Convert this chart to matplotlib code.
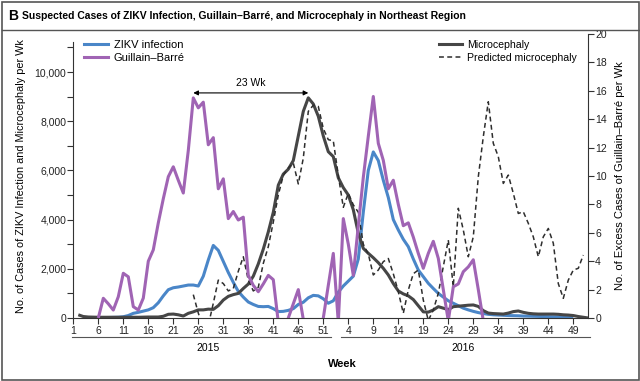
# zika_northeast.py
# Suspected ZIKV / Guillain-Barré / microcephaly cases, Northeast region (2015-2016)
import matplotlib
matplotlib.use("Agg")
import matplotlib.pyplot as plt
import matplotlib.transforms as mtransforms
from matplotlib.lines import Line2D
from matplotlib.patches import Rectangle

plt.rcParams["font.family"] = ["Liberation Sans", "DejaVu Sans"]

# week index: 2015 weeks 1..52 -> 1..52, 2016 weeks 1..52 -> 53..104
zikv_start = 3
zikv = [20, 15, 15, 15, 15, 20, 25, 30, 50, 100,
        190, 230, 280, 330, 420, 620, 900, 1150,
        1230, 1260, 1300, 1340, 1340, 1300, 1700, 2360, 2950, 2750,
        2300, 1850, 1450, 1080, 850, 650, 550, 470, 460, 470,
        380, 260, 270, 310, 380, 550, 640, 820, 920, 900,
        780, 600, 700, 1050, 1300, 1500, 1700, 2400, 4300, 6000,
        6750, 6400, 5600, 4900, 4000, 3580, 3200, 2900, 2400, 1950,
        1680, 1410, 1200, 1000, 850, 700, 600, 500, 400, 330,
        270, 220, 180, 150, 130, 120, 110, 100, 95, 90,
        80, 75, 70, 65, 60, 55, 50, 45, 40, 35, 30]

micro_start = 2
micro = [130, 60, 40, 35, 30, 30, 30, 30, 30, 30, 30, 30, 30, 35, 40, 40,
         40, 70, 150, 160, 130, 80, 190, 250, 330, 330, 360, 350, 500,
         730, 880, 950, 1000, 1200, 1380, 1700, 2200, 2800, 3500,
         4300, 5400, 5850, 6050, 6400, 7400, 8400, 8950, 8700, 8200,
         7400, 6760, 6560, 5700, 5300, 5000, 4400, 3450, 2830, 2630,
         2450, 2250, 2020, 1750, 1400, 1100, 980, 900, 750, 500,
         250, 240, 325, 460, 400, 340, 460, 480, 500, 520,
         530, 470, 300, 200, 180, 170, 160, 200, 260, 285,
         230, 190, 170, 160, 160, 160, 160, 150, 130, 120,
         100, 60, 30, 0]

pred_start = 25
pred = [950, 200, -400, -300, 600, 1540,
        1400, 1100, 1200, 1900, 2490, 1540, 1100, 1250, 2220, 2900,
        3900, 5000, 5800, 6100, 6300, 5450, 6500, 8400, 8650, 8600,
        7700, 7250, 7200, 5800, 4500, 5070, 4600, 4300, 3000, 2600,
        1750, 1950, 2290, 2420, 1800, 1070, 190, 1140, 1800, 1950,
        730, -100, 325, 1000, 2090, 3170, 1270, 4460, 3580, 2490,
        3300, 5740, 7370, 8790, 7100, 6560, 5470, 5810, 5070, 4250,
        4320, 3850, 3300, 2490, 3300, 3640, 3040, 1400, 800, 1540,
        1950, 2020, 2560]

gbs_start = 6
gbs = [0, 1.39, 1.0, 0.56, 1.5, 3.15, 2.9, 0.8, 0.56, 1.4,
       4.0, 4.8, 6.7, 8.4, 9.95, 10.65, 9.7, 8.8, 11.8, 15.5,
       14.8, 15.2, 12.2, 12.7, 9.1, 9.8, 7.0, 7.5, 6.9, 7.1,
       3.0, 2.3, 1.85, 2.4, 3.0, 2.7, -0.3, -2.0, 0.0, 1.0,
       2.0, -0.1, -2.0, -2.0, -1.0, 0.0, 2.3, 4.55, -0.3, 7.0,
       5.2, 3.0, 6.5, 9.9, 12.8, 15.6, 12.3, 11.1, 9.1, 9.7,
       8.0, 6.5, 6.7, 5.7, 4.55, 3.5, 4.55, 5.4, 4.2, 2.0,
       -0.2, 2.2, 2.4, 3.26, 3.6, 4.1, 2.0, -0.2]

tick_weeks_2015 = list(range(1, 52, 5))
tick_weeks_2016 = list(range(4, 50, 5))

BLUE = "#4a86c8"
PURPLE = "#a064b4"
GRAY = "#464646"
DASH = "#2e2e2e"
DASHES = (0, (3.2, 2.2))
W, H = 640, 381


def weeks(start, values):
    return list(range(start, start + len(values)))


def main():
    fig = plt.figure(figsize=(W / 100, H / 100), dpi=100)
    ax = fig.add_axes([73.3 / W, 1 - 318 / H, 515 / W, 284 / H])
    ax2 = ax.twinx()

    ax.plot(weeks(zikv_start, zikv), zikv, color=BLUE, lw=2.2, solid_capstyle="butt")
    ax.plot(weeks(micro_start, micro), micro, color=GRAY, lw=2.2, solid_capstyle="butt")
    ax.plot(weeks(pred_start, pred), pred, color=DASH, lw=1.1, ls=DASHES)
    ax2.plot(weeks(gbs_start, gbs), gbs, color=PURPLE, lw=2.2, solid_capstyle="butt")

    ax.set_xlim(1, 104)
    ax.set_ylim(0, 11545)
    ax2.set_ylim(0, 20)

    # spines
    for a in (ax, ax2):
        a.spines["top"].set_visible(False)
        for s in a.spines.values():
            s.set_linewidth(0.8)
            s.set_color("#333333")
    ax.spines["right"].set_visible(False)
    ax2.spines["left"].set_visible(False)
    ax2.spines["bottom"].set_visible(False)
    ax.spines["left"].set_bounds(0, 11200)

    # left axis ticks
    ax.set_yticks(range(0, 10001, 2000))
    ax.set_yticklabels([f"{v:,}" for v in range(0, 10001, 2000)])
    ax.set_yticks(range(1000, 11001, 2000), minor=True)
    ax.tick_params(axis="y", which="both", length=4, width=0.8, pad=1,
                   labelsize=7.5, colors="#333333", labelcolor="#222222")
    # right axis ticks
    ax2.set_yticks(range(0, 21, 2))
    ax2.tick_params(axis="y", length=4, width=0.8, pad=1, labelsize=7.5,
                    colors="#333333", labelcolor="#222222")
    # x ticks
    xt = tick_weeks_2015 + [52 + w for w in tick_weeks_2016]
    ax.set_xticks(xt)
    ax.set_xticklabels([str(w) for w in tick_weeks_2015] + [str(w) for w in tick_weeks_2016])
    ax.tick_params(axis="x", length=4, width=0.8, pad=2, labelsize=7.5,
                   colors="#333333", labelcolor="#222222")

    ax.set_ylabel("No. of Cases of ZIKV Infection and Microcephaly per Wk",
                  fontsize=7.8, labelpad=6)
    ax2.set_ylabel("No. of Excess Cases of Guillain\u2013Barr\u00e9 per Wk",
                   fontsize=8, labelpad=6)

    # year brackets below the x axis
    trans = mtransforms.blended_transform_factory(ax.transData, ax.transAxes)
    ax.plot([0.7, 52.5], [-0.067, -0.067], color="#555555", lw=0.8,
            transform=trans, clip_on=False)
    ax.plot([54.5, 104.3], [-0.067, -0.067], color="#555555", lw=0.8,
            transform=trans, clip_on=False)
    ax.text(27.9, -0.088, "2015", transform=trans, ha="center", va="top", fontsize=7.5)
    ax.text(79, -0.088, "2016", transform=trans, ha="center", va="top", fontsize=7.5)
    ax.text(54.8, -0.145, "Week", transform=trans, ha="center", va="top",
            fontsize=8, fontweight="bold")

    # 23-week lag arrow
    ax.annotate("", xy=(25, 9150), xytext=(48, 9150),
                arrowprops=dict(arrowstyle="<|-|>", color="black", lw=0.8,
                                mutation_scale=7, shrinkA=0, shrinkB=0))
    ax.text(36.5, 9350, "23 Wk", ha="center", va="bottom", fontsize=7.5)

    # legends
    h1 = [Line2D([], [], color=BLUE, lw=2.2), Line2D([], [], color=PURPLE, lw=2.2)]
    fig.legend(h1, ["ZIKV infection", "Guillain\u2013Barr\u00e9"],
               loc="upper left", bbox_to_anchor=(84 / W, 1 - 40 / H),
               frameon=False, fontsize=8, handlelength=2.2,
               handletextpad=0.5, labelspacing=0.25, borderpad=0,
               borderaxespad=0)
    h2 = [Line2D([], [], color=GRAY, lw=2.2),
          Line2D([], [], color=DASH, lw=1.1, ls=DASHES)]
    fig.legend(h2, ["Microcephaly", "Predicted microcephaly"],
               loc="upper left", bbox_to_anchor=(439 / W, 1 - 40 / H),
               frameon=False, fontsize=7.6, handlelength=2.2,
               handletextpad=0.45, labelspacing=0.3, borderpad=0,
               borderaxespad=0)

    # title and panel frame
    fig.text(8 / W, 1 - 16 / H, "B", fontsize=10, fontweight="bold", va="center")
    fig.text(22 / W, 1 - 16 / H,
             "Suspected Cases of ZIKV Infection, Guillain\u2013Barr\u00e9, and "
             "Microcephaly in Northeast Region",
             fontsize=7.5, fontweight="bold", va="center")
    fig.patches.append(Rectangle((1.5 / W, 1.5 / H), 1 - 3 / W, 1 - 3 / H,
                                 transform=fig.transFigure, fill=False,
                                 ec="#555555", lw=1.2))
    fig.add_artist(Line2D([1.5 / W, 1 - 1.5 / W], [1 - 30 / H, 1 - 30 / H],
                          transform=fig.transFigure, color="#555555", lw=1.0))

    fig.savefig("out.png", dpi=100)
    plt.close(fig)


if __name__ == "__main__":
    main()
